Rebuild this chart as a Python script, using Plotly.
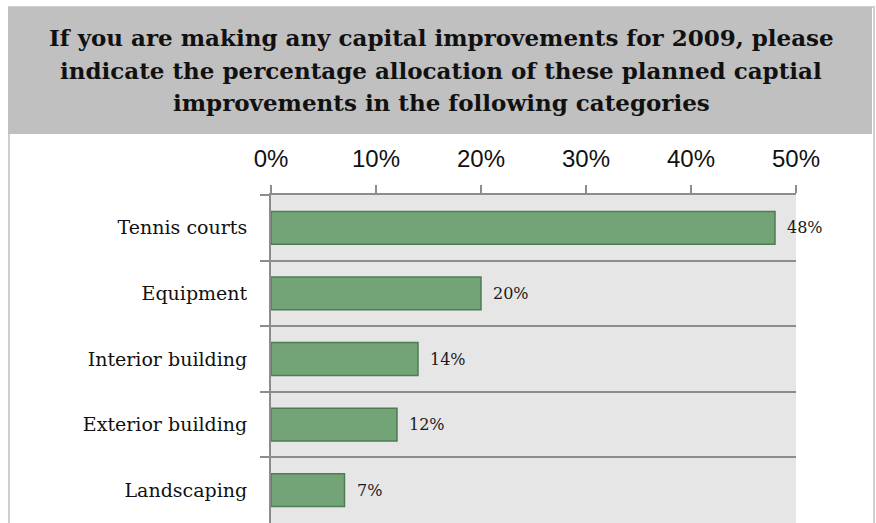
import plotly.graph_objects as go

# Survey results: share of planned 2009 capital improvements by category
categories = ["Tennis courts", "Equipment", "Interior building", "Exterior building", "Landscaping"]
shares = [48, 20, 14, 12, 7]
tick_values = [0, 10, 20, 30, 40, 50]
tick_labels = ["0%", "10%", "20%", "30%", "40%", "50%"]
title_lines = [
    "If you are making any capital improvements for 2009, please",
    "indicate the percentage allocation of these planned captial",
    "improvements in the following categories",
]

W, H = 876, 523
L, R, T, B = 271, 80, 195, 0
PW, PH = W - L - R, H - T - B


def px_x(px):
    return (px - L) / PW


def px_y(py):
    return (H - B - py) / PH


fig = go.Figure()
fig.add_trace(go.Bar(
    x=shares,
    y=categories,
    orientation="h",
    width=0.5,
    marker=dict(color="#72a478", line=dict(color="#4f7b54", width=1.5)),
    hoverinfo="skip",
))

serif = "DejaVu Serif"

annotations = []
for cat, v in zip(categories, shares):
    annotations.append(dict(
        x=v, y=cat, xref="x", yref="y", text=f"{v}%", showarrow=False,
        xanchor="left", xshift=10, font=dict(family=serif, size=16, color="#1a1a1a"),
    ))

# title, one annotation per line for even spacing inside the grey band
for i, line in enumerate(title_lines):
    annotations.append(dict(
        x=px_x(441), y=px_y(38 + 32.5 * i), xref="paper", yref="paper",
        text=f"<b>{line}</b>",
        showarrow=False, xanchor="center", yanchor="middle", align="center",
        font=dict(family=serif, size=23, color="#111111"),
    ))

shapes = [
    # outer frame
    dict(type="rect", xref="paper", yref="paper",
         x0=px_x(9), x1=px_x(874), y0=px_y(540), y1=px_y(7),
         line=dict(color="#cfcfcf", width=2), fillcolor="rgba(0,0,0,0)", layer="below"),
    # title band
    dict(type="rect", xref="paper", yref="paper",
         x0=px_x(8), x1=px_x(872), y0=px_y(134), y1=px_y(7),
         line=dict(width=0), fillcolor="#c0c0c0", layer="below"),
]

fig.update_layout(
    width=W, height=H,
    margin=dict(l=L, r=R, t=T, b=B, pad=0),
    paper_bgcolor="white",
    plot_bgcolor="#e6e6e6",
    showlegend=False,
    annotations=annotations,
    shapes=shapes,
    xaxis=dict(
        side="top", range=[0, 50], tickvals=tick_values, ticktext=tick_labels,
        showgrid=False, zeroline=False,
        showline=True, linecolor="#8c8c8c", linewidth=2,
        ticks="outside", ticklen=8, tickcolor="#8c8c8c", tickwidth=2,
        tickfont=dict(family="Liberation Sans", size=24, color="#111111"),
        ticklabelstandoff=8,
    ),
    yaxis=dict(
        categoryorder="array", categoryarray=categories,
        range=[4.5, -0.5],
        tickson="boundaries", showgrid=True, gridcolor="#8c8c8c", gridwidth=2,
        zeroline=False,
        showline=True, linecolor="#8c8c8c", linewidth=2,
        ticks="outside", ticklen=9, tickcolor="#8c8c8c", tickwidth=2,
        tickfont=dict(family=serif, size=19, color="#111111"),
        ticklabelstandoff=18,
    ),
)

fig.write_html("out.html")
